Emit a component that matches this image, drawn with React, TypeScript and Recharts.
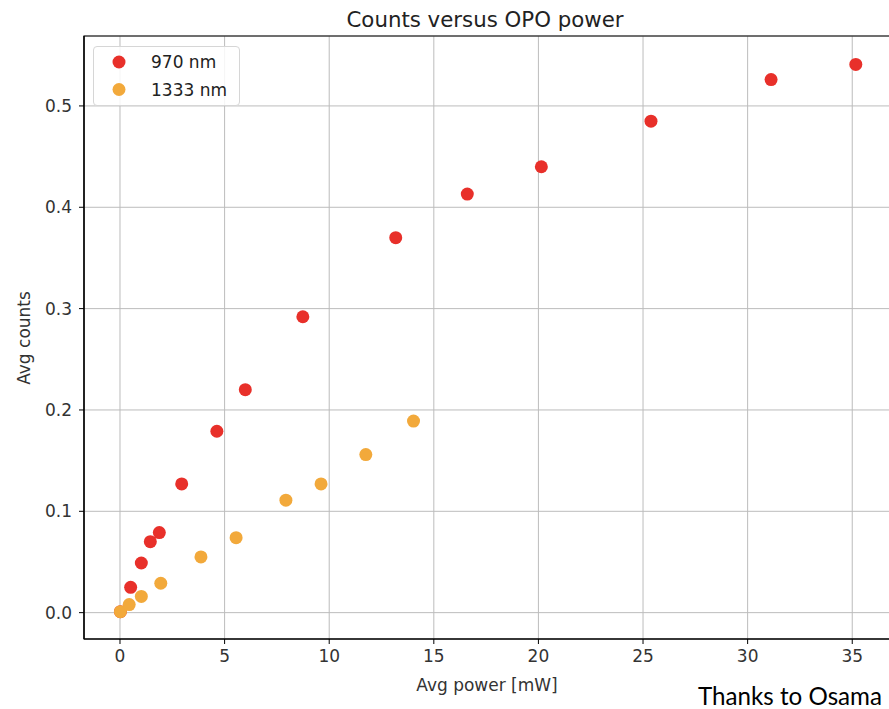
import React from 'react';
import { ScatterChart, Scatter, XAxis, YAxis, CartesianGrid, ReferenceArea } from 'recharts';

// values
const power970 = [0.02, 0.51, 1.02, 1.45, 1.88, 2.95, 4.63, 5.99, 8.74, 13.18, 16.6, 20.14, 25.38, 31.12, 35.17];
const counts970 = [0.001, 0.025, 0.049, 0.07, 0.079, 0.127, 0.179, 0.22, 0.292, 0.37, 0.413, 0.44, 0.485, 0.526, 0.541];
const power1333 = [0.02, 0.44, 1.02, 1.95, 3.87, 5.55, 7.93, 9.61, 11.75, 14.03];
const counts1333 = [0.001, 0.008, 0.016, 0.029, 0.055, 0.074, 0.111, 0.127, 0.156, 0.189];

const xTicks = [0, 5, 10, 15, 20, 25, 30, 35];
const yTicks = [0, 0.1, 0.2, 0.3, 0.4, 0.5];
const xDomain = [-1.72, 36.9];
const yDomain = [-0.026, 0.569];

const RED = '#e8302a';
const ORANGE = '#f2a93b';
const FONT = '"DejaVu Sans", sans-serif';

const data970 = power970.map((x, i) => ({ x, y: counts970[i] }));
const data1333 = power1333.map((x, i) => ({ x, y: counts1333[i] }));

const dot = (color: string) => (p: any) => <circle cx={p.cx} cy={p.cy} r={6.5} fill={color} />;

export default function App() {
    const tick = { fontSize: 17, fill: '#333', fontFamily: FONT };
    return (
        <div style={{ position: 'absolute', left: 0, top: 0, width: 889, height: 709, overflow: 'hidden', background: '#fff' }}>
            <ScatterChart width={892} height={709} margin={{ top: 36, right: 0, bottom: 0, left: 0 }}>
                <CartesianGrid stroke="#bcbcbc" strokeWidth={1} />
                <XAxis type="number" dataKey="x" domain={xDomain} ticks={xTicks} allowDataOverflow
                    height={70} tickSize={5} tickMargin={6} tick={tick}
                    axisLine={{ stroke: '#000', strokeWidth: 1.2 }} tickLine={{ stroke: '#000' }} />
                <YAxis type="number" dataKey="y" domain={yDomain} ticks={yTicks} allowDataOverflow
                    width={84} tickSize={5} tickMargin={7} tick={tick}
                    tickFormatter={(v: number) => v.toFixed(1)}
                    axisLine={{ stroke: '#000', strokeWidth: 1.2 }} tickLine={{ stroke: '#000' }} />
                <ReferenceArea x1={xDomain[0]} x2={xDomain[1]} y1={yDomain[0]} y2={yDomain[1]}
                    fill="none" fillOpacity={0} stroke="#000" strokeWidth={1.2} />
                <Scatter name="970 nm" data={data970} shape={dot(RED)} isAnimationActive={false} />
                <Scatter name="1333 nm" data={data1333} shape={dot(ORANGE)} isAnimationActive={false} />
            </ScatterChart>

            {/* legend box, matplotlib style */}
            <div style={{ position: 'absolute', left: 93, top: 46, width: 145, height: 58, border: '1px solid #d6d6d6', borderRadius: 4, background: 'rgba(255,255,255,0.85)' }} />

            <svg width={889} height={709} style={{ position: 'absolute', left: 0, top: 0, pointerEvents: 'none' }}>
                <circle cx={119} cy={62} r={6.5} fill={RED} />
                <circle cx={119} cy={89.5} r={6.5} fill={ORANGE} />
                <text x={151} y={68} fontSize={17} fill="#222" fontFamily={FONT}>970 nm</text>
                <text x={151} y={95.5} fontSize={17} fill="#222" fontFamily={FONT}>1333 nm</text>

                <text x={485} y={27} textAnchor="middle" fontSize={21.3} fill="#222" fontFamily={FONT}>Counts versus OPO power</text>
                <text x={487} y={691} textAnchor="middle" fontSize={17} fill="#333" fontFamily={FONT}>Avg power [mW]</text>
                <text transform="translate(29.5,338) rotate(-90)" textAnchor="middle" fontSize={17} fill="#333" fontFamily={FONT}>Avg counts</text>
                <text x={698} y={705} fontSize={25} fill="#000" fontFamily="Lato, sans-serif" textLength={184} lengthAdjust="spacingAndGlyphs">Thanks to Osama</text>
            </svg>
        </div>
    );
}
